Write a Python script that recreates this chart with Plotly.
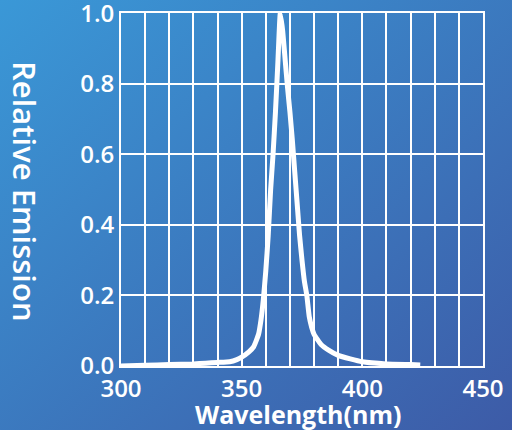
import plotly.graph_objects as go

wavelength = [300, 310, 320, 330, 335, 340, 345, 348, 350, 353, 355, 357, 358, 359, 360,
              361, 362, 363, 364, 365, 366, 367, 368, 369, 370, 371, 372, 373, 374, 375,
              376, 377, 378, 379, 380, 383, 386, 390, 395, 400, 410, 420, 424]
emission = [0.0, 0.002, 0.004, 0.006, 0.008, 0.01, 0.012, 0.018, 0.025, 0.04, 0.055, 0.09, 0.13, 0.19, 0.27,
            0.37, 0.5, 0.6, 0.72, 0.86, 1.0, 0.95, 0.87, 0.79, 0.72, 0.64, 0.55, 0.46, 0.37, 0.30,
            0.24, 0.2, 0.14, 0.11, 0.09, 0.06, 0.045, 0.03, 0.02, 0.012, 0.006, 0.004, 0.003]
x_ticks = [300, 350, 400, 450]
y_ticks = [0.0, 0.2, 0.4, 0.6, 0.8, 1.0]
y_tick_text = ["0.0", "0.2", "0.4", "0.6", "0.8", "1.0"]

bg_svg = ("data:image/svg+xml;utf8,"
          "<svg xmlns='http://www.w3.org/2000/svg' width='512' height='430' preserveAspectRatio='none'>"
          "<defs><linearGradient id='g' x1='0' y1='0' x2='1' y2='1'>"
          "<stop offset='0' stop-color='%233a98d7'/><stop offset='1' stop-color='%233d5ba7'/>"
          "</linearGradient></defs><rect width='512' height='430' fill='url(%23g)'/></svg>")

fig = go.Figure()
fig.add_trace(go.Scatter(x=wavelength, y=emission, mode="lines",
                         line=dict(color="white", width=5, shape="spline", smoothing=0.4),
                         hoverinfo="skip", showlegend=False, cliponaxis=False))

W, H = 512, 430
ml, mr, mt, mb = 121, 29, 13, 64
pw, ph = W - ml - mr, H - mt - mb

fig.add_layout_image(dict(source=bg_svg, xref="paper", yref="paper",
                          x=-ml / pw, y=1 + mt / ph, sizex=W / pw, sizey=H / ph,
                          sizing="stretch", layer="below", xanchor="left", yanchor="top"))

tick_font = dict(family="Open Sans", color="white", size=24, weight=600)

fig.update_layout(
    width=W, height=H,
    margin=dict(l=ml, r=mr, t=mt, b=mb, autoexpand=False),
    paper_bgcolor="#3a7fc4",
    plot_bgcolor="rgba(0,0,0,0)",
    font=tick_font,
    xaxis=dict(range=[300, 450], tickvals=x_ticks, showgrid=True, gridcolor="white", gridwidth=2,
               minor=dict(dtick=10, tick0=300, showgrid=True, gridcolor="white", gridwidth=2),
               showline=True, linecolor="white", linewidth=2, mirror=True, ticks="",
               zeroline=False, tickfont=tick_font, automargin=False, ticklabeloverflow="allow"),
    yaxis=dict(range=[0, 1.001], tickvals=y_ticks, ticktext=y_tick_text, showgrid=True,
               gridcolor="white", gridwidth=2, showline=True, linecolor="white", linewidth=2,
               mirror=True, ticks="", zeroline=False, tickfont=tick_font, automargin=False,
               ticklabeloverflow="allow"),
)

fig.add_annotation(text="Wavelength(nm)", xref="paper", yref="paper", x=(298 - ml) / pw,
                   y=-(414 - mt - ph) / ph,
                   showarrow=False, font=dict(family="Open Sans", color="white", size=25, weight=700),
                   xanchor="center", yanchor="middle")
fig.add_annotation(text="Relative Emission", xref="paper", yref="paper", x=-(ml - 25) / pw,
                   y=1 - (191 - mt) / ph,
                   showarrow=False, textangle=90,
                   font=dict(family="Open Sans", color="white", size=31, weight=600),
                   xanchor="center", yanchor="middle")

fig.write_html("out.html", config={"displayModeBar": False},
               post_script="document.body.style.margin='0';document.body.style.overflow='hidden';")
